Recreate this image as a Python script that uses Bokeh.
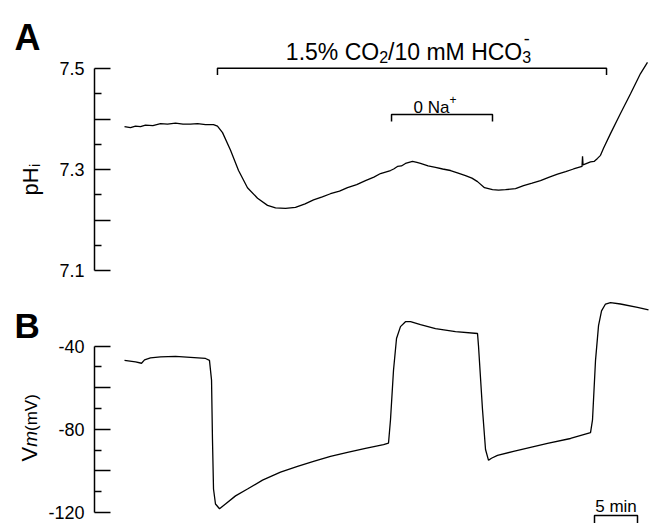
import math
import json
from bokeh.plotting import figure
from bokeh.models import Range1d, LinearAxis, FixedTicker, CustomJSTickFormatter, Label
from bokeh.core.properties import value
from bokeh.layouts import column, row
from bokeh.embed import file_html
from bokeh.resources import INLINE

# ---------------- data (time in minutes) ----------------
time_ph = [0.00, 0.70, 1.28, 1.86, 2.44, 3.30, 4.19, 5.00, 5.93, 6.80, 7.67, 8.50, 9.42, 10.35,
           10.81, 11.40, 12.33, 13.26, 14.30, 15.47, 16.63, 17.56, 18.72, 19.88, 21.00, 21.98,
           23.00, 23.95, 25.00, 25.93, 27.00, 28.02, 29.00, 29.77, 30.93, 31.30, 31.74, 32.20,
           32.67, 33.49, 34.00, 34.42, 35.30, 36.16, 37.00, 37.91, 38.80, 39.65, 40.40, 41.05,
           41.86, 42.79, 43.50, 44.30, 45.47, 46.40, 47.40, 48.37, 49.40, 50.35, 51.30, 52.21,
           53.00, 53.20, 53.26, 53.32, 54.19, 54.60, 55.00, 55.35, 55.70, 56.51, 57.67, 58.84,
           60.00, 60.81]
ph_values = [7.385, 7.383, 7.386, 7.385, 7.388, 7.387, 7.391, 7.390, 7.392, 7.390, 7.390, 7.391,
             7.389, 7.389, 7.386, 7.373, 7.338, 7.298, 7.264, 7.243, 7.229, 7.224, 7.223, 7.225,
             7.232, 7.240, 7.246, 7.252, 7.257, 7.264, 7.270, 7.278, 7.285, 7.292, 7.298, 7.301,
             7.306, 7.307, 7.312, 7.316, 7.314, 7.312, 7.307, 7.304, 7.301, 7.298, 7.293, 7.288,
             7.283, 7.276, 7.264, 7.260, 7.259, 7.260, 7.262, 7.268, 7.273, 7.278, 7.285, 7.291,
             7.296, 7.301, 7.305, 7.306, 7.326, 7.309, 7.315, 7.316, 7.322, 7.328, 7.342, 7.371,
             7.411, 7.450, 7.490, 7.512]

time_vm = [0.00, 1.28, 1.98, 2.33, 3.02, 4.19, 5.93, 7.67, 9.42, 9.88, 10.12, 10.23, 10.35,
           10.58, 11.05, 11.74, 12.91, 14.30, 16.05, 18.14, 20.12, 21.98, 23.95, 25.93, 28.02,
           30.12, 30.70, 30.93, 31.28, 31.63, 32.09, 32.67, 33.26, 34.42, 36.16, 38.49, 41.05,
           41.16, 41.63, 41.98, 42.33, 42.67, 43.37, 45.23, 47.21, 49.19, 51.86, 54.19, 54.42,
           54.77, 55.12, 55.47, 55.93, 56.51, 57.67, 59.65, 60.93]
vm_values = [-46.8, -47.5, -48.2, -46.6, -45.6, -45.1, -44.9, -45.4, -45.9, -46.8, -56.3, -84.9,
             -108.7, -115.9, -118.2, -115.9, -112.0, -108.7, -104.4, -100.6, -97.8, -95.4, -93.0,
             -91.1, -89.2, -87.3, -86.6, -75.4, -51.6, -36.3, -30.6, -28.2, -28.2, -29.6, -31.5,
             -33.0, -33.9, -39.7, -70.6, -89.7, -94.9, -93.9, -92.5, -90.6, -88.7, -86.8, -84.4,
             -81.6, -75.4, -46.8, -30.1, -23.0, -19.7, -19.0, -19.7, -21.3, -22.5]

co2_period = [10.81, 56.05]          # minutes
na_period = [31.05, 42.79]           # minutes
ph_major_ticks = [7.1, 7.2, 7.3, 7.4, 7.5]
ph_minor_ticks = [7.15, 7.25, 7.35, 7.45]
ph_labeled = [7.1, 7.3, 7.5]
vm_major_ticks = [-120, -100, -80, -60, -40]
vm_minor_ticks = [-110, -90, -70, -50]
vm_labeled = [-120, -80, -40]
scale_bar_min = 5

# ---------------- layout helpers ----------------
FONT = "Liberation Sans"
LEFT_W = 44                 # strip holding panel letters and y labels
MAIN_W = 653 - LEFT_W
HA, HB = 288, 235
T0_PAGE = 124.0             # page x where t = 0
PX_PER_MIN = 8.6
FRAME_LEFT_PAGE = 94        # page x of the y axis line


def tx(page_x):
    return (page_x - T0_PAGE) / PX_PER_MIN


def ay(page_y):             # panel A: page y -> pH
    return 7.5 - (page_y - 68.0) / 505.0


B_TOP40, B_BOT120 = 57.7, 224.0


def bv(canvas_y):           # panel B: canvas y -> mV
    return -40.0 - (canvas_y - B_TOP40) / ((B_BOT120 - B_TOP40) / 80.0)


ARIAL = {'0': 556, '1': 556, '2': 556, '3': 556, '5': 556, '.': 278, '%': 889, ' ': 278,
         'C': 722, 'O': 778, '/': 278, 'm': 833, 'M': 833, 'H': 722, 'N': 722, 'a': 556,
         '+': 584, '-': 333, 'i': 222, 'p': 556, 'V': 667, '(': 333, ')': 333, 'n': 556}


def tw(s, size):
    return sum(ARIAL.get(c, 556) for c in s) * size / 1000.0


def style_fig(p):
    p.outline_line_color = None
    p.background_fill_color = "white"
    p.border_fill_color = "white"
    p.grid.visible = False
    return p


def make_fig(height, y0, y1):
    p = figure(width=MAIN_W, height=height, output_backend="svg", toolbar_location=None,
               x_axis_location=None, y_axis_location=None, title=None,
               x_range=Range1d(tx(FRAME_LEFT_PAGE), tx(653)), y_range=Range1d(y0, y1),
               min_border_left=FRAME_LEFT_PAGE - LEFT_W, min_border_right=0,
               min_border_top=0, min_border_bottom=0)
    return style_fig(p)


def make_strip(height):
    p = figure(width=LEFT_W, height=height, output_backend="svg", toolbar_location=None,
               x_axis_location=None, y_axis_location=None, title=None,
               x_range=Range1d(0, LEFT_W), y_range=Range1d(0, height),
               min_border_left=0, min_border_right=0, min_border_top=0, min_border_bottom=0)
    return style_fig(p)


def fmt(labeled, digits):
    return CustomJSTickFormatter(code="""
const show = %s;
for (const v of show) { if (Math.abs(tick - v) < 1e-6) return tick.toFixed(%d); }
return "";
""" % (json.dumps(labeled), digits))


def make_axis(bounds, major, minor, labeled, digits):
    return LinearAxis(bounds=bounds, ticker=FixedTicker(ticks=major, minor_ticks=minor),
                      formatter=fmt(labeled, digits),
                      major_tick_in=16, major_tick_out=0, minor_tick_in=7, minor_tick_out=0,
                      axis_line_width=1.5, major_tick_line_width=1.5, minor_tick_line_width=1.5,
                      axis_line_color="black", major_tick_line_color="black",
                      minor_tick_line_color="black",
                      major_label_text_font=FONT, major_label_text_font_size="18px",
                      major_label_text_color="black", major_label_standoff=10)


def lab(p, x, y, text, size, style="normal", angle=0.0, align="left"):
    p.add_layout(Label(x=x, y=y, text=text, text_font=FONT, text_font_size="%.1fpx" % size,
                       text_font_style=style, text_color="black", angle=angle,
                       text_align=align, text_baseline="alphabetic"))


def gtext(p, x, y, text, size, style="normal", angle=0.0, baseline="alphabetic"):
    p.text(x=[x], y=[y], text=[text], angle=angle, text_font=value(FONT),
           text_font_size=value("%.1fpx" % size), text_font_style=style,
           text_color="black", text_align="left", text_baseline=baseline)


def vtext(p, base_x, y, text, size, style="normal"):
    # vertical text reading upwards; base_x = wanted baseline position
    gtext(p, base_x - 0.35 * size, y, text, size, style=style, angle=math.pi / 2,
          baseline="middle")


# ---------------- panel A ----------------
pa = make_fig(HA, ay(HA), ay(0))
pa.add_layout(make_axis((ph_major_ticks[0], ph_major_ticks[-1]), ph_major_ticks,
                        ph_minor_ticks, ph_labeled, 1), "left")
pa.line(time_ph, ph_values, line_color="black", line_width=1.3)

# CO2 bracket
yb_top, yb_low = ay(67.7), ay(74.5)
pa.line([co2_period[0], co2_period[0], co2_period[1], co2_period[1]],
        [yb_low, yb_top, yb_top, yb_low], line_color="black", line_width=1.5)
# 0 Na bracket
yn_top, yn_low = ay(114.0), ay(121.0)
pa.line([na_period[0], na_period[0], na_period[1], na_period[1]],
        [yn_low, yn_top, yn_top, yn_low], line_color="black", line_width=1.5)

# title above CO2 bracket
big, small = 23, 16
parts = [("1.5% CO", big, 0), ("2", small, 5), ("/10 mM HCO", big, 0), ("3", small, 5)]
total = sum(tw(s, sz) for s, sz, _ in parts)
x = 408.0 - total / 2.0
base = 51.0
last_x = x
for s, sz, dy in parts:
    lab(pa, tx(x), ay(base + dy), s, sz)
    last_x = x
    x += tw(s, sz)
lab(pa, tx(last_x + 1.5), ay(38.0), "-", 18)

# 0 Na+
na_main, na_sup = 17, 12
w_main = tw("0 Na", na_main)
x0 = 434.5 - (w_main + tw("+", na_sup)) / 2.0
lab(pa, tx(x0), ay(106.5), "0 Na", na_main)
lab(pa, tx(x0 + w_main), ay(99.0), "+", na_sup)

# left strip A: panel letter and y label (y measured from strip bottom)
la = make_strip(HA)
gtext(la, 14, HA - 37, "A", 36, style="bold")
vtext(la, 38, HA - 195, "pH", 22)
vtext(la, 39.5, HA - (195 - tw("pH", 22) - 0.5), "i", 15)

# ---------------- panel B ----------------
pb = make_fig(HB, bv(HB), bv(0))
pb.add_layout(make_axis((vm_major_ticks[0], vm_major_ticks[-1]), vm_major_ticks,
                        vm_minor_ticks, vm_labeled, 0), "left")
pb.line(time_vm, vm_values, line_color="black", line_width=1.3)

# scale bar (5 min)
xs = tx(594)
ys_top, ys_low = bv(515 - HA), bv(HB)
pb.line([xs, xs, xs + scale_bar_min, xs + scale_bar_min], [ys_low, ys_top, ys_top, ys_low],
        line_color="black", line_width=1.5)
lab(pb, xs + scale_bar_min / 2.0, bv(505.5 - HA), "5 min", 17, align="center")

# left strip B
lb = make_strip(HB)
gtext(lb, 14, HB - (325 - HA), "B", 35, style="bold")
c = 461 - HA
vtext(lb, 37, HB - c, "V", 22)
c -= tw("V", 22)
vtext(lb, 37, HB - c, "m", 19, style="italic")
c -= tw("m", 19)
vtext(lb, 37, HB - c, "(mV)", 17)

layout = row(column(la, lb, spacing=0), column(pa, pb, spacing=0), spacing=0)
open("out.html", "w").write(file_html(layout, INLINE))
